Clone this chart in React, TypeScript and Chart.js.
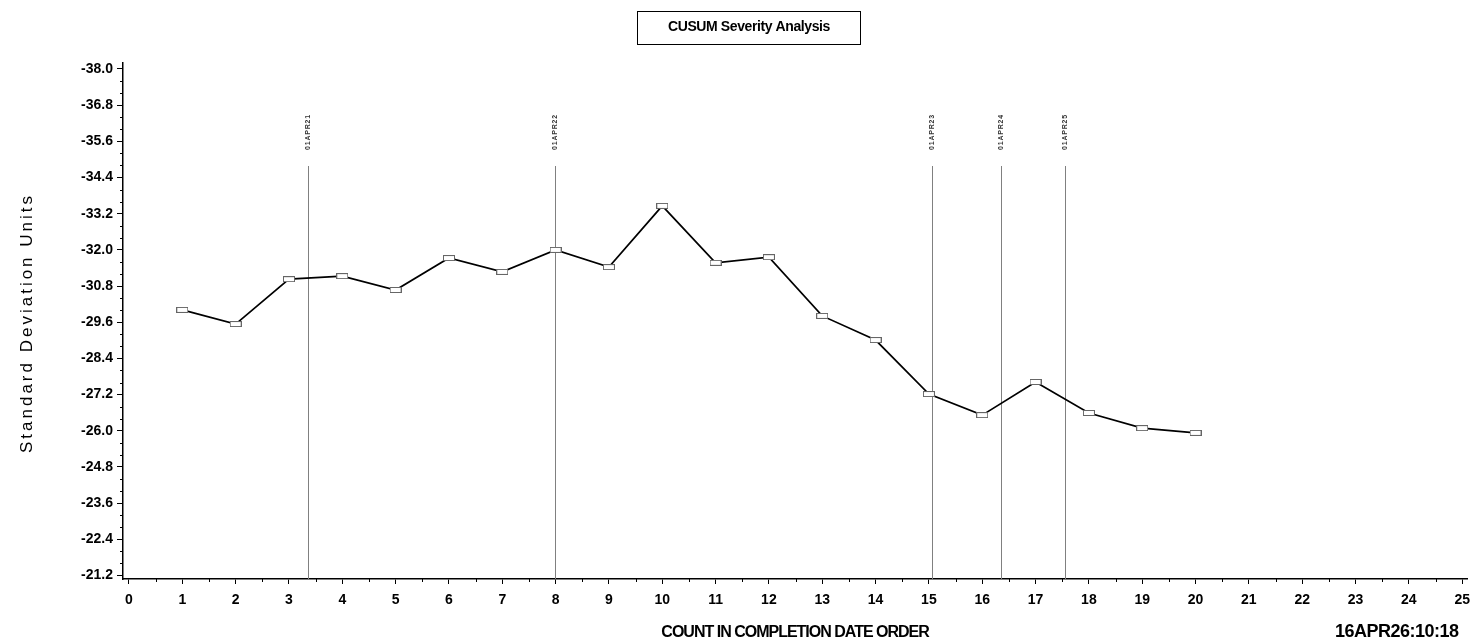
import React, { useEffect, useRef } from "react";
import { Chart, registerables } from "chart.js";

Chart.register(...registerables);

const counts = [1, 2, 3, 4, 5, 6, 7, 8, 9, 10, 11, 12, 13, 14, 15, 16, 17, 18, 19, 20];
const severity = [
  -30.01, -29.54, -31.03, -31.13, -30.67, -31.73, -31.27, -32.0, -31.43, -33.46,
  -31.57, -31.76, -29.81, -29.01, -27.22, -26.52, -27.62, -26.59, -26.09, -25.93,
];
const xTickValues = [0, 1, 2, 3, 4, 5, 6, 7, 8, 9, 10, 11, 12, 13, 14, 15, 16, 17, 18, 19, 20, 21, 22, 23, 24, 25];
const yTickValues = [-38.0, -36.8, -35.6, -34.4, -33.2, -32.0, -30.8, -29.6, -28.4, -27.2, -26.0, -24.8, -23.6, -22.4, -21.2];
const refLinePositions = [3.35, 7.99, 15.05, 16.35, 17.55];
const refLineLabels = ["01APR21", "01APR22", "01APR23", "01APR24", "01APR25"];
const chartTitle = "CUSUM Severity Analysis";
const xAxisTitle = "COUNT IN COMPLETION DATE ORDER";
const yAxisTitle = "Standard Deviation Units";
const timestampText = "16APR26:10:18";

const FONT = "'Liberation Sans', Arial, sans-serif";

function makeMarker(): HTMLCanvasElement {
  const c = document.createElement("canvas");
  c.width = 12;
  c.height = 6;
  const g = c.getContext("2d")!;
  g.fillStyle = "#fff";
  g.fillRect(0, 0, 12, 6);
  g.strokeStyle = "#666";
  g.lineWidth = 1;
  g.strokeRect(0.5, 0.5, 11, 5);
  return c;
}

const decorPlugin = {
  id: "decor",
  beforeDatasetsDraw(chart: any) {
    const ctx = chart.ctx as CanvasRenderingContext2D;
    const xs = chart.scales.x;
    const bottom = chart.chartArea.bottom;
    ctx.save();
    ctx.strokeStyle = "#808080";
    ctx.lineWidth = 1;
    refLinePositions.forEach((v, i) => {
      const px = Math.round(xs.getPixelForValue(v)) + 0.5;
      ctx.beginPath();
      ctx.moveTo(px, 166);
      ctx.lineTo(px, bottom);
      ctx.stroke();
      ctx.save();
      ctx.translate(px, 132);
      ctx.rotate(-Math.PI / 2);
      ctx.fillStyle = "#333";
      ctx.font = `bold 7px ${FONT}`;
      (ctx as any).letterSpacing = "0.8px";
      ctx.textAlign = "center";
      ctx.textBaseline = "middle";
      ctx.fillText(refLineLabels[i], 0, 0);
      ctx.restore();
    });
    ctx.restore();
  },
  afterDraw(chart: any) {
    const ctx = chart.ctx as CanvasRenderingContext2D;
    const xs = chart.scales.x;
    const ys = chart.scales.y;
    const { left, bottom } = chart.chartArea;
    ctx.save();
    ctx.strokeStyle = "#000";
    ctx.lineWidth = 1;
    for (let i = 0; i < xTickValues.length - 1; i++) {
      const v = (xTickValues[i] + xTickValues[i + 1]) / 2;
      const px = Math.round(xs.getPixelForValue(v)) + 0.5;
      ctx.beginPath();
      ctx.moveTo(px, bottom);
      ctx.lineTo(px, bottom + 3);
      ctx.stroke();
    }
    for (let i = 0; i < yTickValues.length - 1; i++) {
      const a = yTickValues[i];
      const b = yTickValues[i + 1];
      [1, 2].forEach((k) => {
        const v = a + ((b - a) * k) / 3;
        const py = Math.round(ys.getPixelForValue(v)) + 0.5;
        ctx.beginPath();
        ctx.moveTo(left - 3, py);
        ctx.lineTo(left, py);
        ctx.stroke();
      });
    }
    ctx.strokeStyle = "#000";
    ctx.lineWidth = 1;
    ctx.strokeRect(637.5, 11.5, 223, 33);
    ctx.fillStyle = "#000";
    ctx.font = `bold 14px ${FONT}`;
    (ctx as any).letterSpacing = "-0.4px";
    ctx.textAlign = "center";
    ctx.textBaseline = "middle";
    ctx.fillText(chartTitle, 749, 27);
    ctx.font = `bold 16px ${FONT}`;
    (ctx as any).letterSpacing = "-1px";
    ctx.fillText(xAxisTitle, (chart.chartArea.left + chart.chartArea.right) / 2, 633);
    ctx.font = `bold 18px ${FONT}`;
    (ctx as any).letterSpacing = "-0.5px";
    ctx.textAlign = "left";
    ctx.fillText(timestampText, 1335, 632);
    ctx.save();
    ctx.translate(27, 323);
    ctx.rotate(-Math.PI / 2);
    ctx.font = `17px ${FONT}`;
    (ctx as any).letterSpacing = "3px";
    ctx.textAlign = "center";
    ctx.textBaseline = "middle";
    ctx.fillStyle = "#000";
    ctx.fillText(yAxisTitle, 0, 0);
    ctx.restore();
    (ctx as any).letterSpacing = "0px";
    ctx.restore();
  },
};

export default function App() {
  const ref = useRef<HTMLCanvasElement | null>(null);
  useEffect(() => {
    if (!ref.current) return;
    const marker = makeMarker();
    const chart = new Chart(ref.current, {
      type: "line",
      data: {
        datasets: [
          {
            data: counts.map((c, i) => ({ x: c, y: severity[i] })),
            borderColor: "#000",
            borderWidth: 1.7,
            pointStyle: marker as any,
            pointRadius: 5,
            tension: 0,
            fill: false,
          },
        ],
      },
      options: {
        animation: false,
        responsive: false,
        devicePixelRatio: 1,
        layout: { padding: { left: 0, top: 63, right: 10, bottom: 0 } },
        plugins: { legend: { display: false }, tooltip: { enabled: false }, title: { display: false } },
        scales: {
          x: {
            type: "linear",
            min: -0.112,
            max: 25.094,
            afterBuildTicks: (s: any) => {
              s.ticks = xTickValues.map((v) => ({ value: v }));
            },
            afterFit: (s: any) => {
              s.height = 65;
            },
            ticks: {
              autoSkip: false,
              maxRotation: 0,
              minRotation: 0,
              padding: 8,
              color: "#000",
              font: { family: FONT, size: 14, weight: "bold" },
              callback: (v: any) => String(v),
            },
            grid: { drawOnChartArea: false, tickLength: 5, color: "#000", lineWidth: 1 },
            border: { color: "#000", width: 1.5 },
          },
          y: {
            type: "linear",
            reverse: true,
            min: -38.199,
            max: -21.084,
            afterBuildTicks: (s: any) => {
              s.ticks = yTickValues.map((v) => ({ value: v }));
            },
            afterFit: (s: any) => {
              s.width = 123;
            },
            ticks: {
              autoSkip: false,
              padding: 4,
              color: "#000",
              font: { family: FONT, size: 14, weight: "bold" },
              callback: (v: any) => Number(v).toFixed(1),
            },
            grid: { drawOnChartArea: false, tickLength: 6, color: "#000", lineWidth: 1 },
            border: { color: "#000", width: 1.5 },
          },
        },
      },
      plugins: [decorPlugin],
    });
    return () => chart.destroy();
  }, []);
  return (
    <div style={{ position: "absolute", left: 0, top: 0, width: 1478, height: 644, background: "#fff" }}>
      <canvas ref={ref} width={1478} height={644} />
    </div>
  );
}
